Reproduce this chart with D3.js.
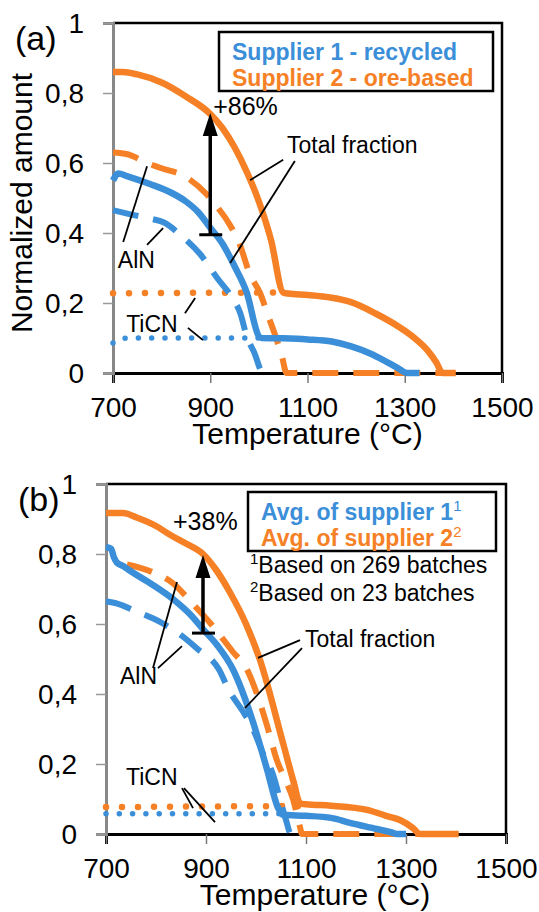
<!DOCTYPE html>
<html>
<head>
<meta charset="utf-8">
<script src="https://cdn.jsdelivr.net/npm/d3@7"></script>
<style>
  body { margin: 0; background: #fff; }
  svg { display: block; font-family: "Liberation Sans", Arial, sans-serif; }
</style>
</head>
<body>
<div id="chart"></div>
<script>
// axis ticks
const tempTicks = [700, 900, 1100, 1300, 1500];
const amountTicks = [0, 0.2, 0.4, 0.6, 0.8, 1];
const amountLabels = ['0', '0,2', '0,4', '0,6', '0,8', '1'];

// panel (a) - single suppliers, [temperature, normalized amount]
const aTotal1 = [[700,.55],[711,.57],[730,.562],[776,.54],[820,.515],[850,.49],[875,.46],[900,.415],[925,.37],[950,.305],[975,.23],[1000,.105],[1005,.1],[1050,.099],[1100,.096],[1150,.09],[1190,.076],[1230,.055],[1256,.037],[1285,.015],[1305,0],[1330,0]];
const aTotal2 = [[700,.86],[720,.86],[750,.853],[800,.83],[850,.79],[900,.74],[925,.70],[950,.645],[975,.575],[1000,.49],[1025,.38],[1050,.23],[1060,.227],[1100,.223],[1150,.215],[1188,.203],[1240,.17],[1290,.13],[1320,.1],[1346,.066],[1365,.03],[1378,0],[1405,0]];
const aAlN1 = [[700,.465],[740,.452],[780,.44],[805,.43],[842,.39],[879,.34],[915,.27],[945,.215],[962,.17],[975,.105],[990,.06],[1009,0],[1020,0]];
const aAlN2 = [[700,.63],[730,.625],[770,.60],[800,.585],[850,.56],[893,.51],[914,.475],[935,.435],[960,.37],[982,.28],[1002,.23],[1020,.16],[1037,.094],[1047,.05],[1057,0],[1400,0]];
const aTiCN1 = [[700,.086],[715,.098],[740,.1],[1000,.1]];
const aTiCN2 = [[700,.228],[1050,.23]];

// panel (b) - averages
const bTotal1 = [[700,.82],[710,.815],[716,.79],[722,.775],[735,.765],[745,.755],[790,.715],[835,.67],[870,.625],[894,.585],[922,.54],[954,.47],[994,.32],[1022,.185],[1044,.075],[1054,.055],[1100,.052],[1150,.046],[1188,.032],[1230,.018],[1270,.005],[1282,0],[1300,0]];
const bTotal2 = [[700,.917],[734,.917],[760,.905],[800,.88],[828,.855],[860,.83],[894,.8],[920,.755],[948,.69],[980,.6],[1008,.497],[1054,.26],[1075,.15],[1088,.088],[1100,.085],[1150,.081],[1222,.069],[1260,.052],[1288,.04],[1314,.017],[1328,0],[1405,0]];
const bAlN1 = [[700,.665],[718,.66],[764,.634],[808,.606],[848,.57],[882,.53],[926,.47],[946,.41],[974,.35],[994,.30],[1014,.23],[1034,.17],[1046,.11],[1060,.04],[1070,0],[1080,0]];
const bAlN2 = [[742,.77],[790,.75],[835,.715],[872,.66],[910,.6],[954,.52],[982,.47],[1002,.40],[1022,.31],[1042,.21],[1060,.15],[1074,.10],[1088,.02],[1092,0],[1405,0]];
const bTiCN1 = [[700,.058],[1050,.058]];
const bTiCN2 = [[700,.077],[1090,.08]];

const BLUE = '#3b8ed8', ORANGE = '#f58025';

const width = 539, height = 912;
const svg = d3.select('#chart').append('svg').attr('width', width).attr('height', height);

function drawPanel(p) {
  let x = d3.scaleLinear().domain([700, 1500]).range([p.left, p.right]);
  let y = d3.scaleLinear().domain([0, 1]).range([p.bottom, p.top]);
  let g = svg.append('g');

  // frame (top, right)
  g.append('path')
    .attr('d', `M${p.left},${p.top}H${p.right}V${p.bottom}`)
    .attr('fill', 'none').attr('stroke', '#000').attr('stroke-width', 2.5);

  // axes
  let ax = g.append('g').attr('transform', `translate(0,${p.bottom})`)
    .call(d3.axisBottom(x).tickValues(tempTicks).tickSize(10).tickFormat(d3.format('d')));
  ax.select('.domain').attr('stroke', '#000').attr('stroke-width', 3);
  ax.selectAll('.tick line').attr('stroke', '#777').attr('stroke-width', 1.5);
  ax.selectAll('.tick text').attr('y', 44).attr('dy', 0)
    .attr('font-size', 28).attr('font-family', 'Liberation Sans, Arial').attr('fill', '#000');

  let ay = g.append('g').attr('transform', `translate(${p.left},0)`)
    .call(d3.axisLeft(y).tickValues(amountTicks).tickSize(10).tickFormat((d, i) => amountLabels[i]));
  ay.select('.domain').attr('stroke', '#888').attr('stroke-width', 3);
  ay.selectAll('.tick line').attr('stroke', '#999').attr('stroke-width', 1.5);
  ay.selectAll('.tick text').attr('x', -29).attr('dy', '0.35em')
    .attr('font-size', 28).attr('font-family', 'Liberation Sans, Arial').attr('fill', '#000');

  // axis titles
  g.append('text').attr('x', (p.left + p.right) / 2 + p.titleDx).attr('y', p.bottom + 71)
    .attr('text-anchor', 'middle').attr('font-size', 30).text('Temperature (°C)');
  if (p.yTitle) {
    g.append('text').attr('transform', `translate(32,${(p.top + p.bottom) / 2 + 5}) rotate(-90)`)
      .attr('text-anchor', 'middle').attr('font-size', 30).text(p.yTitle);
  }
  g.append('text').attr('x', p.labelX).attr('y', p.top + 27)
    .attr('font-size', 34).text(p.label);

  // curves
  let line = d3.line().x(d => x(d[0])).y(d => y(d[1])).curve(d3.curveMonotoneX);
  let styles = {
    solid: {w: 6.5, dash: null, cap: 'butt'},
    dash: {w: 6, dash: '26,15', cap: 'butt'},
    dot1: {w: 5.5, dash: '0,13.3', cap: 'round'},
    dot2: {w: 6.5, dash: '0,16', cap: 'round'}
  };
  p.series.forEach(s => {
    let st = styles[s.style];
    g.append('path').datum(s.data)
      .attr('d', line)
      .attr('fill', 'none')
      .attr('stroke', s.color)
      .attr('stroke-width', st.w)
      .attr('stroke-dasharray', st.dash)
      .attr('stroke-linecap', st.cap)
      .attr('stroke-linejoin', 'round');
  });

  // leader lines
  p.leaders.forEach(l => {
    g.append('line')
      .attr('x1', x(l[0][0])).attr('y1', y(l[0][1]))
      .attr('x2', x(l[1][0])).attr('y2', y(l[1][1]))
      .attr('stroke', '#000').attr('stroke-width', 1.8);
  });

  p.notes.forEach(n => {
    g.append('text').attr('x', x(n.t)).attr('y', y(n.v))
      .attr('font-size', n.size || 23).text(n.text);
  });

  // increase arrow
  let a = p.arrow, ax0 = x(a.t), yb = y(a.from), yt = y(a.to);
  g.append('line').attr('x1', ax0 - 11).attr('x2', ax0 + 12).attr('y1', yb).attr('y2', yb)
    .attr('stroke', '#000').attr('stroke-width', 3);
  g.append('line').attr('x1', ax0).attr('x2', ax0).attr('y1', yb).attr('y2', yt + 18)
    .attr('stroke', '#000').attr('stroke-width', 3.5);
  g.append('path').attr('d', `M${ax0},${yt}L${ax0 - 7.5},${yt + 23}L${ax0 + 7.5},${yt + 23}Z`)
    .attr('fill', '#000');
  g.append('text').attr('x', x(a.labelT)).attr('y', y(a.labelV))
    .attr('font-size', 25).text(a.label);

  // legend
  let lg = p.legend;
  g.append('rect').attr('x', lg.x).attr('y', lg.y).attr('width', lg.w).attr('height', lg.h)
    .attr('fill', '#fff').attr('stroke', '#000').attr('stroke-width', 2.5);
  lg.items.forEach((it, i) => {
    let t = g.append('text').attr('x', lg.x + 13).attr('y', lg.y + 28 + i * 26)
      .attr('font-size', 23).attr('font-weight', 'bold').attr('fill', it.color).text(it.text);
    if (it.sup) t.append('tspan').attr('dy', -9).attr('font-size', 15).attr('font-weight', 'normal').text(it.sup);
  });
  (lg.footnotes || []).forEach((f, i) => {
    let t = g.append('text').attr('x', lg.x + 2).attr('y', lg.y + lg.h + 22 + i * 28)
      .attr('font-size', 23);
    t.append('tspan').attr('font-size', 15).attr('dy', -9).text(f.sup);
    t.append('tspan').attr('dy', 9).text(f.text);
  });
}

drawPanel({
  left: 113, right: 502, top: 23, bottom: 373, titleDx: 0,
  label: '(a)', labelX: 15, yTitle: 'Normalized amount',
  series: [
    {data: aAlN2, color: ORANGE, style: 'dash'},
    {data: aTiCN2, color: ORANGE, style: 'dot2'},
    {data: aTotal2, color: ORANGE, style: 'solid'},
    {data: aAlN1, color: BLUE, style: 'dash'},
    {data: aTiCN1, color: BLUE, style: 'dot1'},
    {data: aTotal1, color: BLUE, style: 'solid'}
  ],
  leaders: [
    [[1050, .609], [982, .551]], [[1074, .606], [941, .314]],
    [[770, .591], [721, .374]], [[770, .366], [803, .414]],
    [[848, .171], [869, .214]], [[854, .129], [885, .094]]
  ],
  notes: [
    {text: 'Total fraction', t: 1058, v: .629},
    {text: 'AlN', t: 710, v: .30},
    {text: 'TiCN', t: 727, v: .117}
  ],
  arrow: {t: 900, from: .395, to: .743, label: '+86%', labelT: 906, labelV: .737},
  legend: {x: 219, y: 32, w: 274, h: 59, items: [
    {text: 'Supplier 1 - recycled', color: BLUE},
    {text: 'Supplier 2 - ore-based', color: ORANGE}
  ]}
});

drawPanel({
  left: 106, right: 506, top: 484, bottom: 834, titleDx: 9,
  label: '(b)', labelX: 18, yTitle: null,
  series: [
    {data: bAlN2, color: ORANGE, style: 'dash'},
    {data: bTiCN2, color: ORANGE, style: 'dot2'},
    {data: bTotal2, color: ORANGE, style: 'solid'},
    {data: bAlN1, color: BLUE, style: 'dash'},
    {data: bTiCN1, color: BLUE, style: 'dot1'},
    {data: bTotal1, color: BLUE, style: 'solid'}
  ],
  leaders: [
    [[1088, .554], [1004, .503]], [[1092, .531], [978, .36]],
    [[842, .72], [794, .474]], [[852, .537], [804, .474]],
    [[852, .131], [874, .074]], [[856, .131], [918, .034]]
  ],
  notes: [
    {text: 'Total fraction', t: 1098, v: .534},
    {text: 'AlN', t: 728, v: .429},
    {text: 'TiCN', t: 740, v: .14}
  ],
  arrow: {t: 894, from: .574, to: .797, label: '+38%', labelT: 834, labelV: .869},
  legend: {x: 248, y: 492, w: 248, h: 59, items: [
    {text: 'Avg. of supplier 1', sup: '1', color: BLUE},
    {text: 'Avg. of supplier 2', sup: '2', color: ORANGE}
  ], footnotes: [
    {sup: '1', text: 'Based on 269 batches'},
    {sup: '2', text: 'Based on 23 batches'}
  ]}
});
</script>
</body>
</html>
